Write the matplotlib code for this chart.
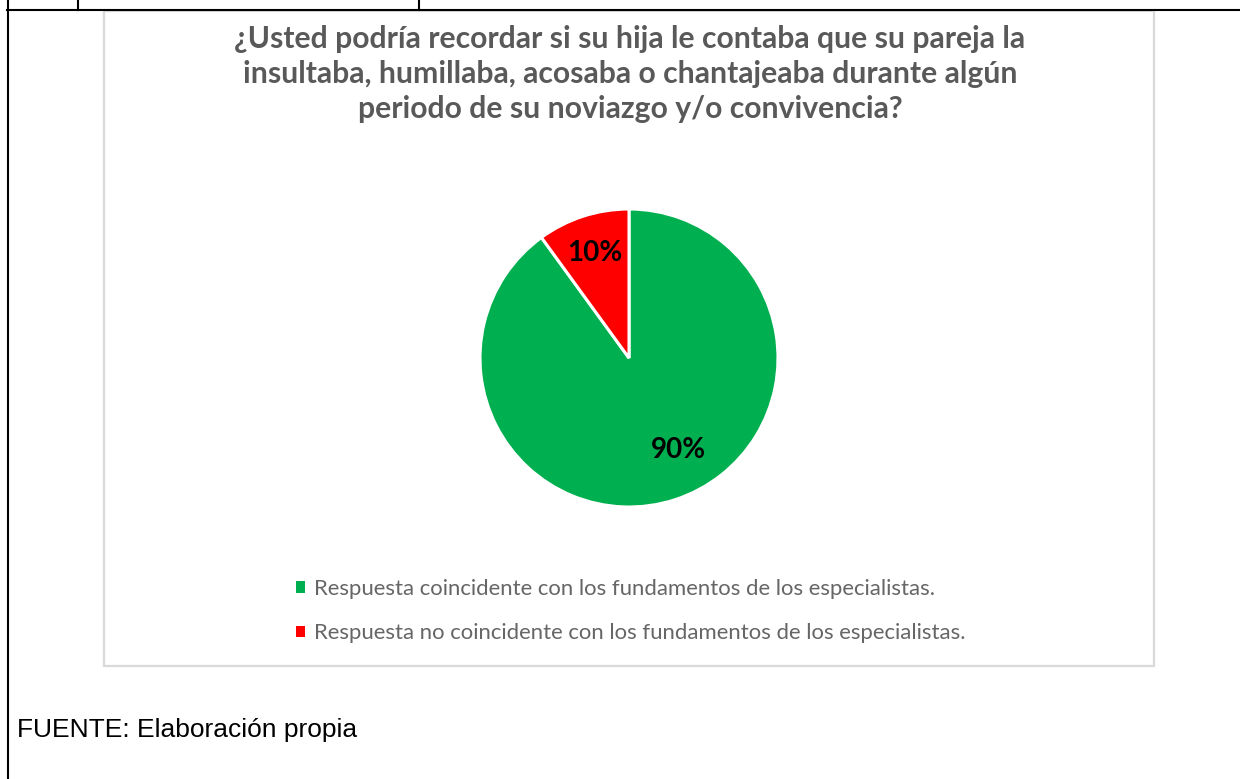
import numpy as np
import matplotlib
matplotlib.use("Agg")
import matplotlib.pyplot as plt
from matplotlib.lines import Line2D
from matplotlib.patches import Rectangle

W, H, DPI = 1240, 779, 100

title_lines = [
    "¿Usted podría recordar si su hija le contaba que su pareja la",
    "insultaba, humillaba, acosaba o chantajeaba durante algún",
    "periodo de su noviazgo y/o convivencia?",
]
categories = [
    "Respuesta coincidente con los fundamentos de los especialistas.",
    "Respuesta no coincidente con los fundamentos de los especialistas.",
]
values = [90, 10]
colors = ["#00B050", "#FF0000"]
source_text = "FUENTE: Elaboración propia"

fig = plt.figure(figsize=(W / DPI, H / DPI), dpi=DPI)
fig.patch.set_facecolor("white")
renderer = fig.canvas.get_renderer()


def fx(x):
    return x / W


def fy(y):
    return 1 - y / H


def fit_width(t, target):
    w = t.get_window_extent(renderer).width
    t.set_fontsize(t.get_fontsize() * target / w)
    return t.get_fontsize()


# --- table borders (black) ---
lw_black = 1.5
fig.add_artist(Line2D([fx(7), fx(W)], [fy(10), fy(10)], color="black", lw=lw_black))
fig.add_artist(Line2D([fx(8), fx(8)], [fy(0), fy(H)], color="black", lw=lw_black))
fig.add_artist(Line2D([fx(78), fx(78)], [fy(0), fy(10)], color="black", lw=lw_black))
fig.add_artist(Line2D([fx(419), fx(419)], [fy(0), fy(10)], color="black", lw=lw_black))

# --- chart frame (light gray) ---
fig.add_artist(Rectangle((fx(104), fy(666)), (1154 - 104) / W, (666 - 11) / H,
                         fill=False, edgecolor="#D9D9D9", lw=1.6))

# --- title ---
title_font = dict(family=["Lato", "DejaVu Sans"], weight="bold", color="#595959")
baselines = [48, 83, 118]
tts = []
for line, yb in zip(title_lines, baselines):
    t = fig.text(fx(630), fy(yb), line, ha="center", va="baseline", fontsize=20, **title_font)
    tts.append(t)
fs_title = fit_width(tts[0], 791)
for t in tts[1:]:
    t.set_fontsize(fs_title)

# --- pie ---
R = 149
cx, cy = 629, 358
ax = fig.add_axes([fx(cx - R), fy(cy + R), 2 * R / W, 2 * R / H])
wedges, texts, autotexts = ax.pie(
    values, colors=colors, startangle=90, counterclock=False,
    autopct="%1.0f%%", pctdistance=0.74, radius=1,
    wedgeprops=dict(edgecolor="white", linewidth=2.2),
    textprops=dict(family=["Lato", "DejaVu Sans"], weight="bold", color="black", fontsize=18),
)
ax.set_xlim(-1, 1)
ax.set_ylim(-1, 1)
ax.set_aspect("equal")
ax.axis("off")
# place the large-slice label like the original "best fit"
ang = np.deg2rad(-61.5)
autotexts[0].set_position((0.70 * np.cos(ang), 0.70 * np.sin(ang)))
for at in autotexts:
    fit_width(at, 55)

# --- legend ---
probe = fig.text(0, 0, categories[1], fontsize=14, family=["Lato", "DejaVu Sans"])
fs_leg = fit_width(probe, 655)
probe.remove()
leg = fig.legend(
    wedges, categories, loc="upper left",
    bbox_to_anchor=(fx(296), fy(579)),
    frameon=False, borderpad=0, borderaxespad=0,
    handlelength=0.42, handleheight=0.42, handletextpad=0.4,
    labelspacing=1.1,
    prop=dict(family=["Lato", "DejaVu Sans"], size=fs_leg),
    labelcolor="#666666",
)
for h in leg.legend_handles:
    h.set_edgecolor("none")

# --- source ---
st = fig.text(fx(17), fy(737), source_text, ha="left", va="baseline",
              fontsize=17, family=["Liberation Sans", "DejaVu Sans"], color="black")
fit_width(st, 341)

fig.savefig("out.png", dpi=DPI, facecolor="white")
